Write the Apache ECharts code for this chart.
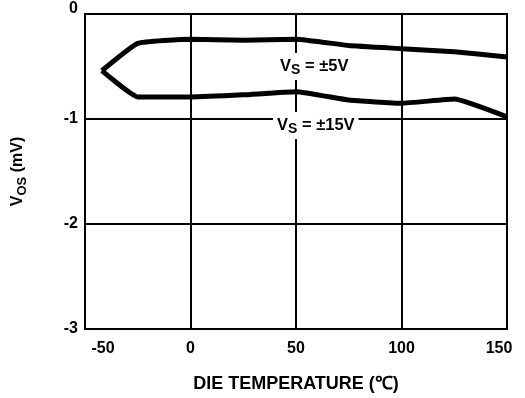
<!DOCTYPE html>
<html>
<head>
<meta charset="utf-8">
<script src="https://cdn.jsdelivr.net/npm/echarts@6/dist/echarts.min.js"></script>
<style>
  html, body { margin: 0; padding: 0; background: #fff; }
  #chart { width: 525px; height: 398px; }
</style>
</head>
<body>
<div id="chart"></div>
<script>
// Offset voltage vs. die temperature for two supply settings
const temps5 = [-42, -25, 0, 25, 50, 75, 100, 125, 150];
const vos5 = [-0.54, -0.28, -0.24, -0.25, -0.24, -0.30, -0.33, -0.36, -0.41];

const temps15 = [-42, -25, 0, 25, 50, 75, 100, 125, 150];
const vos15 = [-0.54, -0.79, -0.79, -0.77, -0.74, -0.82, -0.85, -0.81, -0.98];

const xTicks = [-50, 0, 50, 100, 150];
const yTicks = [-3, -2, -1, 0];

const FONT = '"Liberation Sans", Arial, sans-serif';

function pairs(xs, ys) {
  return xs.map((x, i) => [x, ys[i]]);
}

function tag(text, left, top) {
  return {
    type: 'text', left: left, top: top, z: 10,
    style: {
      text: '{v|V}{sub|S}{v| = ' + text + '}',
      backgroundColor: '#fff', padding: [3, 4, 4, 4],
      rich: {
        v: { fontFamily: FONT, fontWeight: 'bold', fontSize: 16.5, fill: '#000', lineHeight: 20 },
        sub: { fontFamily: FONT, fontWeight: 'bold', fontSize: 14, fill: '#000', padding: [9, 0, 0, 0], lineHeight: 20 }
      }
    }
  };
}

const chart = echarts.init(document.getElementById('chart'), null, { renderer: 'canvas' });

chart.setOption({
  animation: false,
  backgroundColor: '#fff',
  grid: {
    left: 85, right: 18, top: 14, bottom: 69,
    containLabel: false,
    outerBoundsMode: 'none',
    show: true, borderColor: '#000', borderWidth: 2, backgroundColor: 'transparent'
  },
  xAxis: {
    type: 'value',
    min: xTicks[0], max: xTicks[xTicks.length - 1], interval: 50,
    name: 'DIE TEMPERATURE (℃)',
    nameLocation: 'middle',
    nameGap: 46,
    nameTextStyle: { color: '#000', fontFamily: FONT, fontWeight: 'bold', fontSize: 18 },
    axisLine: { show: true, lineStyle: { color: '#000', width: 2 } },
    axisTick: { show: false },
    splitLine: { show: true, lineStyle: { color: '#000', width: 2 } },
    axisLabel: {
      color: '#000', fontFamily: FONT, fontWeight: 'bold', fontSize: 16, margin: 12,
      formatter: function (v) {
        if (v === xTicks[0]) return '{lo|' + v + '}';
        if (v === xTicks[xTicks.length - 1]) return '{hi|' + v + '}';
        return String(v);
      },
      rich: {
        lo: { fontFamily: FONT, fontWeight: 'bold', fontSize: 16, color: '#000', padding: [0, 0, 0, 36] },
        hi: { fontFamily: FONT, fontWeight: 'bold', fontSize: 16, color: '#000', padding: [0, 16, 0, 0] }
      }
    }
  },
  yAxis: {
    type: 'value',
    min: yTicks[0], max: yTicks[yTicks.length - 1], interval: 1,
    name: '{v|V}{sub|OS}{v| (mV)}',
    nameLocation: 'middle',
    nameRotate: 90,
    nameGap: 57,
    nameTextStyle: {
      rich: {
        v: { fontFamily: FONT, fontWeight: 'bold', fontSize: 16, color: '#000', lineHeight: 20 },
        sub: { fontFamily: FONT, fontWeight: 'bold', fontSize: 13, color: '#000', padding: [9, 0, 0, 0], lineHeight: 20 }
      }
    },
    axisLine: { show: true, lineStyle: { color: '#000', width: 2 } },
    axisTick: { show: false },
    splitLine: { show: true, lineStyle: { color: '#000', width: 2 } },
    axisLabel: {
      color: '#000', fontFamily: FONT, fontWeight: 'bold', fontSize: 16, margin: 7,
      formatter: function (v) {
        if (v === 0) return '{top|0}';
        return String(v);
      },
      rich: {
        top: { fontFamily: FONT, fontWeight: 'bold', fontSize: 16, color: '#000', padding: [0, 0, 10, 0] }
      }
    }
  },
  series: [
    {
      name: 'VS = ±5V',
      type: 'line',
      data: pairs(temps5, vos5),
      symbol: 'none',
      smooth: 0.12,
      lineStyle: { color: '#000', width: 5 },
      z: 5
    },
    {
      name: 'VS = ±15V',
      type: 'line',
      data: pairs(temps15, vos15),
      symbol: 'none',
      smooth: 0.12,
      lineStyle: { color: '#000', width: 5 },
      z: 5
    }
  ],
  graphic: [
    tag('±5V', 276, 53),
    tag('±15V', 273, 112)
  ]
});
</script>
</body>
</html>
